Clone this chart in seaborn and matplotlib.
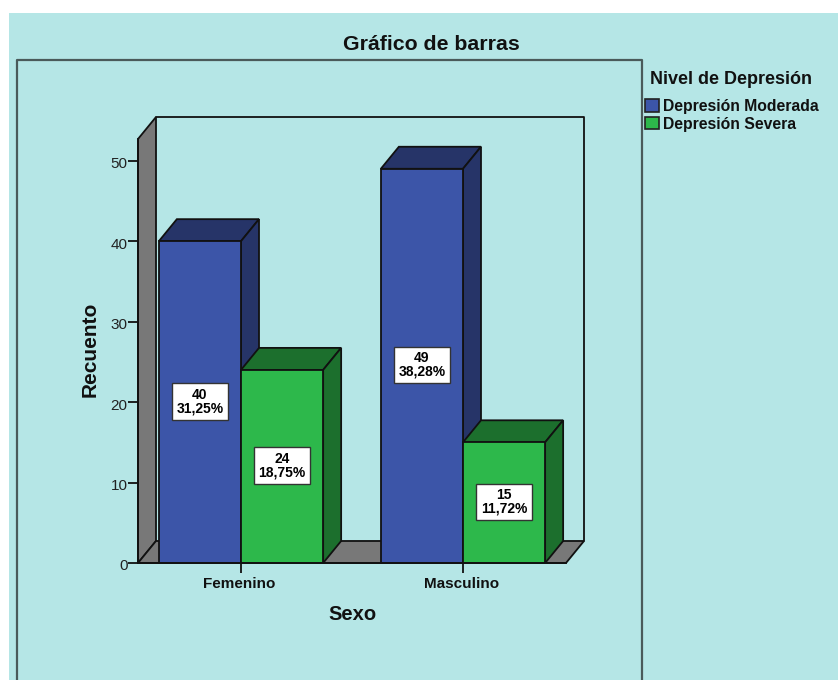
import pandas as pd
import matplotlib
matplotlib.use('Agg')
import matplotlib.pyplot as plt
import seaborn as sns
from matplotlib.patches import Polygon, Rectangle
from matplotlib.transforms import ScaledTranslation

sexo = ['Femenino', 'Masculino']
moderada = [40, 49]
severa = [24, 15]
pct_moderada = ['31,25%', '38,28%']
pct_severa = ['18,75%', '11,72%']
niveles = ['Depresión Moderada', 'Depresión Severa']
y_ticks = [0, 10, 20, 30, 40, 50]

W, H = 838, 680
BG = '#b5e6e6'
EDGE = '#111111'
colores = {niveles[0]: '#3c55a8', niveles[1]: '#2db84b'}
oscuros = {niveles[0]: '#263468', niveles[1]: '#1c6f2d'}
GRIS = '#787878'

sns.set_theme(style='white')
plt.rcParams['font.family'] = ['Liberation Sans', 'DejaVu Sans']

df = pd.DataFrame({
    'Sexo': sexo * 2,
    'Recuento': moderada + severa,
    'Nivel': [niveles[0]] * 2 + [niveles[1]] * 2,
})

fig = plt.figure(figsize=(W / 100, H / 100), dpi=100, facecolor='white')

# teal panel and inner frame, in pixels of the picture
def fx(x):
    return x / W

def fy(y):
    return 1 - y / H

fig.add_artist(Rectangle((fx(9), 0), 1 - fx(9), fy(13), transform=fig.transFigure,
                         facecolor=BG, edgecolor='none', zorder=-5))
fig.add_artist(plt.Line2D([fx(17), fx(17), fx(642), fx(642)], [0, fy(60), fy(60), 0],
                          color='#4a5a5a', lw=1.6, zorder=-4))

ax = fig.add_axes([fx(138), fy(563), (566 - 138) / W, (563 - 139) / H])
ax.patch.set_alpha(0)

sns.barplot(data=df, x='Sexo', y='Recuento', hue='Nivel', hue_order=niveles,
            palette=colores, saturation=1, width=0.74, gap=0, ax=ax,
            edgecolor=EDGE, linewidth=1.3, zorder=4, legend=False)

ax.set_xlim(-0.464, 1.464)
ax.set_ylim(0, 52.7)

# depth of the 3D effect, in data units
dx = 18 / 222
dy = 22 / 8.04
x0, x1 = ax.get_xlim()
y1 = ax.get_ylim()[1]

# walls and floor
ax.add_patch(Polygon([(x0, 0), (x0, y1), (x0 + dx, y1 + dy), (x0 + dx, dy)], closed=True,
                     facecolor=GRIS, edgecolor=EDGE, lw=1.3, clip_on=False, zorder=1))
ax.add_patch(Polygon([(x0, 0), (x1, 0), (x1 + dx, dy), (x0 + dx, dy)], closed=True,
                     facecolor=GRIS, edgecolor=EDGE, lw=1.3, clip_on=False, zorder=1))
ax.plot([x0 + dx, x1 + dx, x1 + dx], [y1 + dy, y1 + dy, dy], color=EDGE, lw=1.3,
        clip_on=False, zorder=1)

# top and side faces of each bar, then the count labels
etiquetas = [(moderada, pct_moderada), (severa, pct_severa)]
for i, cont in enumerate(ax.containers):
    oscuro = oscuros[niveles[i]]
    valores, pcts = etiquetas[i]
    for bar, val, pct in zip(cont.patches, valores, pcts):
        left = bar.get_x()
        right = left + bar.get_width()
        top = bar.get_height()
        ax.add_patch(Polygon([(left, top), (right, top), (right + dx, top + dy), (left + dx, top + dy)],
                             closed=True, facecolor=oscuro, edgecolor=EDGE, lw=1.3,
                             clip_on=False, zorder=2 + i * 0.1))
        ax.add_patch(Polygon([(right, 0), (right + dx, dy), (right + dx, top + dy), (right, top)],
                             closed=True, facecolor=oscuro, edgecolor=EDGE, lw=1.3,
                             clip_on=False, zorder=2 + i * 0.1))
        ax.text(left + bar.get_width() / 2, top / 2 + 0.1, f'{val}\n{pct}', ha='center', va='center',
                fontsize=10, fontweight='bold', color='black', linespacing=0.95, zorder=6,
                bbox=dict(boxstyle='square,pad=0.33', facecolor='white', edgecolor='#333333', lw=1))

sns.despine(ax=ax, top=True, right=True)
for s in ['left', 'bottom']:
    ax.spines[s].set_color(EDGE)
    ax.spines[s].set_linewidth(1.3)
    ax.spines[s].set_zorder(5)

ax.set_yticks(y_ticks)
ax.tick_params(axis='y', left=True, length=7, width=1.3, color=EDGE, labelsize=11,
               labelcolor='#222222', pad=0.5)
ax.tick_params(axis='x', bottom=True, length=7, width=1.3, color=EDGE, labelsize=11, pad=3)
for lab in ax.get_yticklabels():
    lab.set_transform(lab.get_transform() + ScaledTranslation(0, -2 / 100, fig.dpi_scale_trans))
for lab in ax.get_xticklabels():
    lab.set_fontweight('bold')
    lab.set_color('#111111')
    lab.set_transform(lab.get_transform() + ScaledTranslation(-1.5 / 100, 0, fig.dpi_scale_trans))

ax.set_xlabel('')
ax.set_ylabel('')
fig.text(fx(352), fy(615), 'Sexo', ha='center', va='center', fontsize=14.5, fontweight='bold',
         color='#111111')
fig.text(fx(90), fy(349), 'Recuento', ha='center', va='center', rotation=90, fontsize=15,
         fontweight='bold', color='#111111')
fig.text(fx(431), fy(44), 'Gráfico de barras', ha='center', va='center', fontsize=15.3,
         fontweight='bold', color='#111111')

# legend
fig.text(fx(650), fy(80), 'Nivel de Depresión', ha='left', va='center', fontsize=13,
         fontweight='bold', color='#111111')
handles = [Rectangle((0, 0), 1, 1, facecolor=colores[n], edgecolor='#222222', lw=1.2) for n in niveles]
leg = fig.legend(handles, niveles, loc='upper left', bbox_to_anchor=(fx(645), fy(99)),
                 frameon=False, fontsize=11.3, borderaxespad=0, borderpad=0,
                 handlelength=0.88, handleheight=0.88, handletextpad=0.25, labelspacing=0.16)
for t in leg.get_texts():
    t.set_fontweight('bold')
    t.set_color('#111111')

fig.savefig('out.png', dpi=100, facecolor='white')
